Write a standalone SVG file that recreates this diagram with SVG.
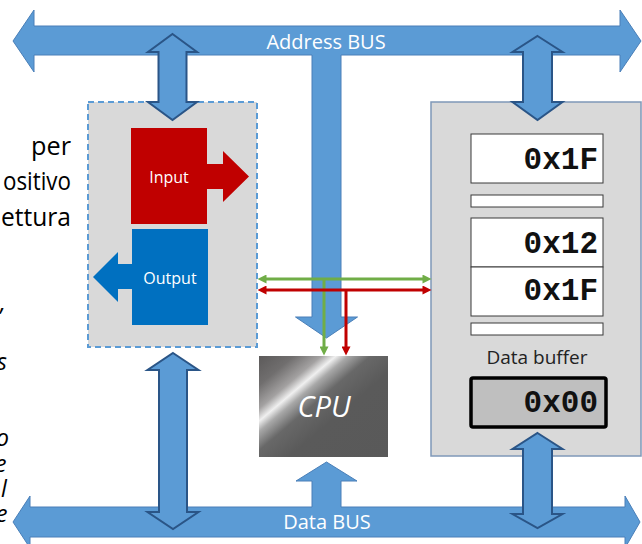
<svg xmlns="http://www.w3.org/2000/svg" width="642" height="544" viewBox="0 0 642 544">
  <style>
    .bus { fill: #5b9bd5; stroke: #4a7fb8; stroke-width: 1; }
    .link { fill: #5b9bd5; stroke: #2a5587; stroke-width: 2; stroke-linejoin: miter; }
    .busLabel { font-family: "Open Sans", "Liberation Sans", sans-serif; font-size: 20px; fill: #ffffff; text-anchor: middle; }
    .ioLabel { font-family: "Open Sans", "Liberation Sans", sans-serif; font-size: 16px; fill: #ffffff; text-anchor: middle; }
    .side { font-family: "Open Sans", "Liberation Sans", sans-serif; font-size: 26px; fill: #000000; text-anchor: end; }
    .sideIt { font-family: "Open Sans", "Liberation Sans", sans-serif; font-size: 23px; font-style: italic; fill: #000000; text-anchor: start; }
    .cell { fill: #ffffff; stroke: #3a3a3a; stroke-width: 1; }
    .hex { font-family: "Liberation Mono", "Courier New", monospace; font-weight: bold; font-size: 31px; fill: #111111; text-anchor: end; }
    .wire { fill: none; stroke-width: 3; }
  </style>
  <defs>
    <linearGradient id="cpuShine" gradientUnits="userSpaceOnUse" x1="259" y1="356" x2="362.6" y2="478.4">
      <stop offset="0" stop-color="#5c5a5a"/>
      <stop offset="0.14" stop-color="#706e6e"/>
      <stop offset="0.25" stop-color="#a3a1a1"/>
      <stop offset="0.31" stop-color="#f0f0f0"/>
      <stop offset="0.36" stop-color="#a8a8a8"/>
      <stop offset="0.45" stop-color="#686868"/>
      <stop offset="0.6" stop-color="#5a5a5a"/>
      <stop offset="1" stop-color="#595959"/>
    </linearGradient>
    <marker id="headGreen" viewBox="0 0 10 10" refX="5" refY="5" markerWidth="10" markerHeight="9" markerUnits="userSpaceOnUse" orient="auto-start-reverse">
      <path d="M0,0 L10,5 L0,10 Z" fill="#70ad47"/>
    </marker>
    <marker id="headRed" viewBox="0 0 10 10" refX="5" refY="5" markerWidth="10" markerHeight="9" markerUnits="userSpaceOnUse" orient="auto-start-reverse">
      <path d="M0,0 L10,5 L0,10 Z" fill="#c00000"/>
    </marker>
  </defs>

  <rect width="642" height="544" fill="#ffffff"/>

  <!-- slide text partly hidden at the left edge -->
  <g id="side-text">
    <text class="side" x="71" y="155" textLength="40" lengthAdjust="spacingAndGlyphs">per</text>
    <text class="side" x="71" y="190" textLength="68" lengthAdjust="spacingAndGlyphs">ositivo</text>
    <text class="side" x="71" y="226" textLength="70" lengthAdjust="spacingAndGlyphs">ettura</text>
    <text class="sideIt" x="0" y="311">,</text>
    <text class="sideIt" x="-3" y="370">s</text>
    <text class="sideIt" x="-4" y="446">o</text>
    <text class="sideIt" x="-5" y="472">e</text>
    <text class="sideIt" x="1" y="497">l</text>
    <text class="sideIt" x="-4" y="522">e</text>
  </g>

  <!-- buses -->
  <g id="address-bus">
    <path class="bus" d="M13,41 L34,10 L34,26 L620,26 L620,10 L641,41 L620,72 L620,55 L341,55 L341,317 L357.5,317 L326.5,338 L295.5,317 L312,317 L312,55 L34,55 L34,72 Z"/>
    <text class="busLabel" x="326" y="49">Address BUS</text>
  </g>
  <g id="data-bus">
    <path class="bus" d="M13,522 L30,496 L30,507 L312,507 L312,481 L296,481 L326.5,462 L357,481 L341,481 L341,507 L625,507 L625,496 L640,522 L625,548 L625,537 L30,537 L30,548 Z"/>
    <text class="busLabel" x="327" y="529">Data BUS</text>
  </g>

  <!-- I/O device -->
  <g id="io-device">
    <rect x="88" y="102" width="169" height="245" fill="#d9d9d9" stroke="#5b9bd5" stroke-width="2" stroke-dasharray="6 4"/>
    <path d="M131,128 H207 V164 H223 V151 L249,176.5 L223,202 V189 H207 V224 H131 Z" fill="#c00000"/>
    <text class="ioLabel" x="169" y="183">Input</text>
    <path d="M132,229 H208 V325 H132 V289 H118 V302 L93,277 L118,252 V264 H132 Z" fill="#0070c0"/>
    <text class="ioLabel" x="170" y="284">Output</text>
  </g>

  <!-- memory -->
  <g id="memory">
    <rect x="431" y="102" width="210" height="354" fill="#d9d9d9" stroke="#7f98b8" stroke-width="1.5"/>
    <rect class="cell" x="471" y="134" width="132" height="49"/>
    <text class="hex" x="598" y="169">0x1F</text>
    <rect class="cell" x="471" y="195" width="132" height="12"/>
    <rect class="cell" x="471" y="218" width="132" height="49"/>
    <text class="hex" x="598" y="253">0x12</text>
    <rect class="cell" x="471" y="267" width="132" height="49"/>
    <text class="hex" x="598" y="300">0x1F</text>
    <rect class="cell" x="471" y="323" width="132" height="12"/>
    <text x="537" y="364" font-family="Open Sans, Liberation Sans, sans-serif" font-size="19" fill="#222222" text-anchor="middle">Data buffer</text>
    <rect x="471" y="378" width="135" height="49" rx="2" fill="#bfbfbf" stroke="#000000" stroke-width="3.5"/>
    <text class="hex" x="598" y="412">0x00</text>
  </g>

  <!-- CPU -->
  <g id="cpu">
    <rect x="259" y="356" width="129" height="101" fill="url(#cpuShine)"/>
    <text x="324" y="417" font-family="Open Sans, Liberation Sans, sans-serif" font-size="29" font-style="italic" fill="#ffffff" text-anchor="middle">CPU</text>
  </g>

  <!-- connectors -->
  <g id="connectors">
    <path class="link" d="M172.5,34 L197,52 L186.5,52 L186.5,102 L197,102 L172.5,120 L148,102 L158.5,102 L158.5,52 L148,52 Z"/>
    <path class="link" d="M537.5,36 L562.5,52 L552,52 L552,102 L562.5,102 L537.5,120 L512.5,102 L523,102 L523,52 L512.5,52 Z"/>
    <path class="link" d="M173,353 L198.5,370 L187,370 L187,512 L198.5,512 L173,529 L147.5,512 L159,512 L159,370 L147.5,370 Z"/>
    <path class="link" d="M537.5,433 L562.5,449 L552,449 L552,514 L562.5,514 L537.5,528 L512.5,514 L523,514 L523,449 L512.5,449 Z"/>
    <line class="wire" stroke="#70ad47" x1="262" y1="279" x2="427" y2="279" marker-start="url(#headGreen)" marker-end="url(#headGreen)"/>
    <line class="wire" stroke="#70ad47" x1="324" y1="279" x2="324" y2="351" marker-end="url(#headGreen)"/>
    <line class="wire" stroke="#c00000" x1="262" y1="290" x2="427" y2="290" marker-start="url(#headRed)" marker-end="url(#headRed)"/>
    <line class="wire" stroke="#c00000" x1="346" y1="290" x2="346" y2="351" marker-end="url(#headRed)"/>
  </g>
</svg>
